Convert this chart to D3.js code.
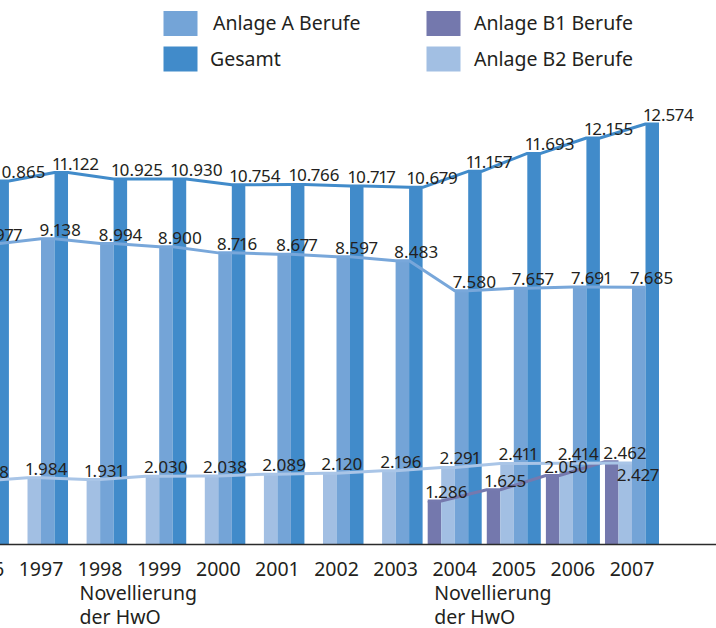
<!DOCTYPE html>
<html>
<head>
<meta charset="utf-8">
<script src="https://cdn.jsdelivr.net/npm/d3@7"></script>
<style>
  html, body { margin: 0; padding: 0; background: #fff; }
  svg { display: block; font-family: "Noto Sans", "Open Sans", sans-serif; }
</style>
</head>
<body>
<div id="chart-area"></div>
<script>
// Daten (Anzahl, 1996 ist links nur angeschnitten)
const years = [1996, 1997, 1998, 1999, 2000, 2001, 2002, 2003, 2004, 2005, 2006, 2007];
const anlageB1 = [null, null, null, null, null, null, null, null, 1286, 1625, 2050, 2462];
const anlageB2 = [1888, 1984, 1931, 2030, 2038, 2089, 2120, 2196, 2291, 2411, 2414, 2427];
const anlageA = [8977, 9138, 8994, 8900, 8716, 8677, 8597, 8483, 7580, 7657, 7691, 7685];
const gesamt = [10865, 11122, 10925, 10930, 10754, 10766, 10717, 10679, 11157, 11693, 12155, 12574];
const noteYears = [1998, 2004];
const noteLines = ["Novellierung", "der HwO"];

const seriesKeys = ["B1", "B2", "A", "Gesamt"];
const seriesValues = { B1: anlageB1, B2: anlageB2, A: anlageA, Gesamt: gesamt };
const colors = { B1: "#7478ad", B2: "#a2bfe3", A: "#74a4d7", Gesamt: "#418bca" };
const lineColors = { B1: "#7579ae", B2: "#a9c5e7", A: "#78a7da", Gesamt: "#418bca" };

const legendItems = [
    { key: "A", label: "Anlage A Berufe" },
    { key: "Gesamt", label: "Gesamt" },
    { key: "B1", label: "Anlage B1 Berufe" },
    { key: "B2", label: "Anlage B2 Berufe" }
];

const svgWidth = 716;
const svgHeight = 628;
const baseline = 544;

const svg = d3.select("#chart-area")
    .append("svg")
    .attr("width", svgWidth)
    .attr("height", svgHeight);

const x0 = d3.scaleBand()
    .domain(years)
    .range([-45.1, 659])
    .paddingInner(0.086)
    .paddingOuter(0);

const x1 = d3.scaleBand()
    .domain(seriesKeys)
    .range([0, x0.bandwidth()]);

const y = d3.scaleLinear()
    .domain([0, d3.max(gesamt)])
    .range([baseline, 124]);

const fmt = d3.formatLocale({ decimal: ",", thousands: ".", grouping: [3], currency: ["", " €"] }).format(",d");

// Balken
const rows = [];
years.forEach((yr, i) => {
    seriesKeys.forEach(k => {
        const v = seriesValues[k][i];
        if (v != null) rows.push({ year: yr, key: k, value: v, i: i });
    });
});

svg.append("g")
    .attr("class", "bars")
    .selectAll("rect")
    .data(rows)
    .join("rect")
    .attr("x", d => x0(d.year) + x1(d.key))
    .attr("y", d => y(d.value))
    .attr("width", x1.bandwidth())
    .attr("height", d => baseline - y(d.value))
    .attr("fill", d => colors[d.key]);

// Linien ueber die Balkenkanten
const lineGen = d3.line()
    .x(d => d.x)
    .y(d => d.y);

seriesKeys.forEach(k => {
    const pts = [];
    years.forEach((yr, i) => {
        const v = seriesValues[k][i];
        if (v == null) return;
        const bx = x0(yr) + x1(k);
        pts.push({ x: bx, y: y(v) });
        pts.push({ x: bx + x1.bandwidth(), y: y(v) });
    });
    svg.append("path")
        .attr("class", "line-" + k)
        .attr("d", lineGen(pts))
        .attr("fill", "none")
        .attr("stroke", lineColors[k])
        .attr("stroke-width", 3)
        .attr("stroke-linejoin", "round");
});

// x-Achse
svg.append("line")
    .attr("x1", 0)
    .attr("x2", svgWidth)
    .attr("y1", baseline + 0.5)
    .attr("y2", baseline + 0.5)
    .attr("stroke", "#2b2b2b")
    .attr("stroke-width", 1.5);

svg.append("g")
    .selectAll("text")
    .data(years)
    .join("text")
    .attr("x", d => x0(d) + x0.bandwidth() / 2)
    .attr("y", 576)
    .attr("text-anchor", "middle")
    .attr("fill", "#231f20")
    .style("font-size", "19.5px")
    .text(d => d);

noteYears.forEach(yr => {
    noteLines.forEach((t, j) => {
        svg.append("text")
            .attr("x", x0(yr) + x0.bandwidth() / 2 - 20.5)
            .attr("y", 600 + j * 24)
            .attr("fill", "#231f20")
            .style("font-size", "19.5px")
            .text(t);
    });
});

// Wertebeschriftungen
svg.append("g")
    .attr("class", "labels")
    .selectAll("text")
    .data(rows)
    .join("text")
    .attr("x", d => x0(d.year) + x1(d.key) - 1.5)
    .attr("y", d => {
        // B2-Wert unter die Kante, wenn B1 fast gleich hoch ist
        if (d.key === "B2" && anlageB1[d.i] != null && Math.abs(y(anlageB1[d.i]) - y(d.value)) < 10) {
            return y(d.value) + 18;
        }
        return y(d.value) - 3;
    })
    .attr("fill", "#231f20")
    .style("font-size", "17px")
    .style("font-variant-numeric", "proportional-nums")
    .text(d => fmt(d.value));

// Legende
const legend = svg.append("g").attr("class", "legend");
legendItems.forEach((item, i) => {
    const col = Math.floor(i / 2);
    const row = i % 2;
    const lx = col === 0 ? 163.5 : 426.5;
    const ly = 11 + row * 35.5;
    legend.append("rect")
        .attr("x", lx)
        .attr("y", ly)
        .attr("width", 34)
        .attr("height", 25)
        .attr("fill", colors[item.key]);
    legend.append("text")
        .attr("x", col === 0 ? (row === 0 ? 213 : 210) : 474)
        .attr("y", ly + 19)
        .attr("fill", "#231f20")
        .style("font-size", "19.5px")
        .text(item.label);
});
</script>
</body>
</html>
